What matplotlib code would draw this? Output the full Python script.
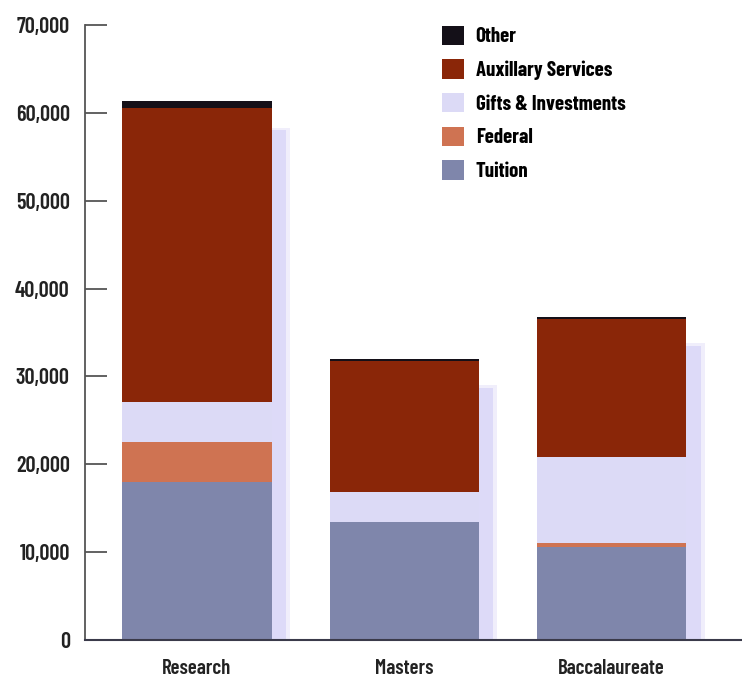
import matplotlib
matplotlib.use("Agg")
from matplotlib import pyplot as plt
import numpy as np

plt.rcParams['font.family'] = ['Barlow Condensed', 'DejaVu Sans']

categories = ["Research", "Masters", "Baccalaureate"]
series = ["Tuition", "Federal", "Gifts & Investments", "Auxillary Services", "Other"]

tuition = [18000, 13400, 10600]
federal = [4500, 0, 450]
gifts = [4600, 3450, 9800]
auxillary = [33500, 14850, 15650]
other = [700, 300, 300]

yticks = [0, 10000, 20000, 30000, 40000, 50000, 60000, 70000]

colors = ["#7f86ab", "#cf7352", "#dcdaf6", "#8a2608", "#141018"]

stack = [tuition, federal, gifts, auxillary, other]
totals = np.sum(stack, axis=0)

fig = plt.figure(figsize=(7.42, 6.95), dpi=100)
ax = fig.add_axes([85/742, 1-640/695, 657/742, 615/695])

x = np.arange(len(categories))
w = 0.72

# soft lavender drop shadow to the right of each column
ax.bar(x + 0.09, totals - 3000, w, color="#e2dff9", alpha=0.5, zorder=1, linewidth=0)
ax.bar(x + 0.07, totals - 3300, w, color="#d9d5f8", alpha=0.8, zorder=1, linewidth=0)

bottom = np.zeros(len(categories))
handles = []
for vals, name, c in zip(stack, series, colors):
    h = ax.bar(x, vals, w, bottom=bottom, color=c, label=name, zorder=2, linewidth=0)
    handles.append(h)
    bottom = bottom + np.array(vals)

ax.set_xlim(-0.54, 2.63)
ax.set_ylim(0, 70000)
ax.set_yticks(yticks)
ax.set_yticklabels([f"{v:,}" for v in yticks], fontsize=16, fontweight="semibold", color="#222")
ax.tick_params(axis="y", direction="in", length=16, width=1.3, color="#555", pad=11)
ax.set_xticks(x)
ax.set_xticklabels(categories, fontsize=15, fontweight="semibold", color="#222")
ax.tick_params(axis="x", length=0, pad=14)

for s in ["top", "right"]:
    ax.spines[s].set_visible(False)
ax.spines["left"].set_color("#555")
ax.spines["left"].set_linewidth(1.3)
ax.spines["bottom"].set_color("#3a3a4a")
ax.spines["bottom"].set_linewidth(1.5)
ax.spines["bottom"].set_zorder(3)

leg = ax.legend(handles[::-1], series[::-1], loc="upper left",
                bbox_to_anchor=(0.528, 1.016), frameon=False, borderpad=0,
                handlelength=1.05, handleheight=1.05, handletextpad=0.55,
                labelspacing=0.62, prop={"size": 15, "weight": "bold"})

fig.savefig("out.png", dpi=100, facecolor="white")
